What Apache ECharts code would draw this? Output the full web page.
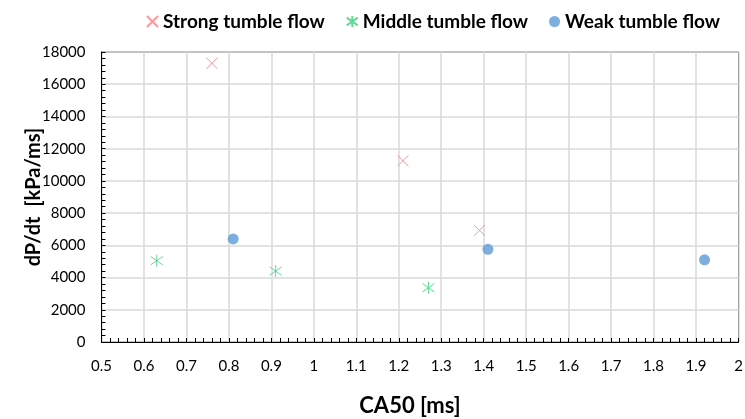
<!DOCTYPE html>
<html><head><meta charset="utf-8">
<script src="https://cdn.jsdelivr.net/npm/echarts@6/dist/echarts.min.js"></script>
<style>html,body{margin:0;padding:0;background:#fff}#c{width:745px;height:419px}</style>
</head><body><div id="c"></div>
<script>
var seriesNames = ['Strong tumble flow', 'Middle tumble flow', 'Weak tumble flow'];
var strongX = [0.76, 1.21, 1.39];
var strongY = [17300, 11250, 6930];
var middleX = [0.63, 0.91, 1.27];
var middleY = [5050, 4400, 3370];
var weakX = [0.81, 1.41, 1.92];
var weakY = [6400, 5750, 5100];
var xTickLabels = ['0.5','0.6','0.7','0.8','0.9','1','1.1','1.2','1.3','1.4','1.5','1.6','1.7','1.8','1.9','2'];
var yTickLabels = ['0','2000','4000','6000','8000','10000','12000','14000','16000','18000'];

function pairs(xs, ys){ return xs.map(function(x,i){ return [x, ys[i]]; }); }

var crossPath = 'path://M0,0L10,10M10,0L0,10';
var starPath = 'path://M0,1.5L10,8.5M10,1.5L0,8.5M5,0L5,10';
var font = 'Lato, "Open Sans", sans-serif';

var chart = echarts.init(document.getElementById('c'), null, {renderer: 'canvas'});
chart.setOption({
  animation: false,
  backgroundColor: '#fff',
  textStyle: {fontFamily: font},
  legend: {
    top: 7, left: 141,
    itemGap: 21,
    itemWidth: 11, itemHeight: 11,
    textStyle: {fontFamily: font, fontWeight: 'bold', fontSize: 19, color: '#000'},
    data: [
      {name: seriesNames[0]},
      {name: seriesNames[1]},
      {name: seriesNames[2], icon: 'circle'}
    ]
  },
  grid: {left: 101.5, right: 6.5, top: 52, bottom: 77, containLabel: false, outerBoundsMode: 'none',
         show: true, borderColor: '#000', borderWidth: 1},
  xAxis: {
    type: 'value', min: 0.5, max: 2, interval: 0.1,
    name: 'CA50 [ms]', nameLocation: 'middle', nameGap: 53, nameMoveOverlap: false,
    nameTextStyle: {fontFamily: font, fontWeight: 'bold', fontSize: 22, color: '#000', padding: [0, 20, 0, 0]},
    axisLine: {show: true, lineStyle: {color: '#000', width: 1}},
    axisTick: {show: true, inside: true, length: 4, lineStyle: {color: '#000'}},
    minorTick: {show: true, splitNumber: 5, length: 4, lineStyle: {color: '#000'}},
    axisLabel: {fontFamily: font, fontSize: 15, color: '#000', margin: 17,
      formatter: function(v){ var i = Math.round((v - 0.5) / 0.1); return xTickLabels[i]; }},
    splitLine: {show: true, lineStyle: {color: '#d9d9d9', width: 1.5}}
  },
  yAxis: {
    type: 'value', min: 0, max: 18000, interval: 2000,
    name: 'dP/dt  [kPa/ms]', nameLocation: 'middle', nameGap: 58, nameMoveOverlap: false,
    nameTextStyle: {fontFamily: font, fontWeight: 'bold', fontSize: 20, color: '#000'},
    axisLine: {show: true, lineStyle: {color: '#000', width: 1}},
    axisTick: {show: true, inside: true, length: 4, lineStyle: {color: '#000'}},
    minorTick: {show: true, splitNumber: 5, length: 4, lineStyle: {color: '#000'}},
    axisLabel: {fontFamily: font, fontSize: 15, color: '#000', margin: 16,
      formatter: function(v){ return yTickLabels[Math.round(v / 2000)]; }},
    splitLine: {show: true, lineStyle: {color: '#d9d9d9', width: 1.5}}
  },
  series: [
    {name: seriesNames[0], type: 'scatter', symbol: crossPath, symbolSize: 11,
     data: pairs(strongX, strongY),
     itemStyle: {color: 'rgba(0,0,0,0)', borderColor: '#FF7C80', borderWidth: 1}},
    {name: seriesNames[1], type: 'scatter', symbol: starPath, symbolSize: 12,
     data: pairs(middleX, middleY),
     itemStyle: {color: 'rgba(0,0,0,0)', borderColor: '#3FCF7F', borderWidth: 1}},
    {name: seriesNames[2], type: 'scatter', symbol: 'circle', symbolSize: 11,
     data: pairs(weakX, weakY),
     itemStyle: {color: '#5B9BD5'}}
  ]
});
</script></body></html>
